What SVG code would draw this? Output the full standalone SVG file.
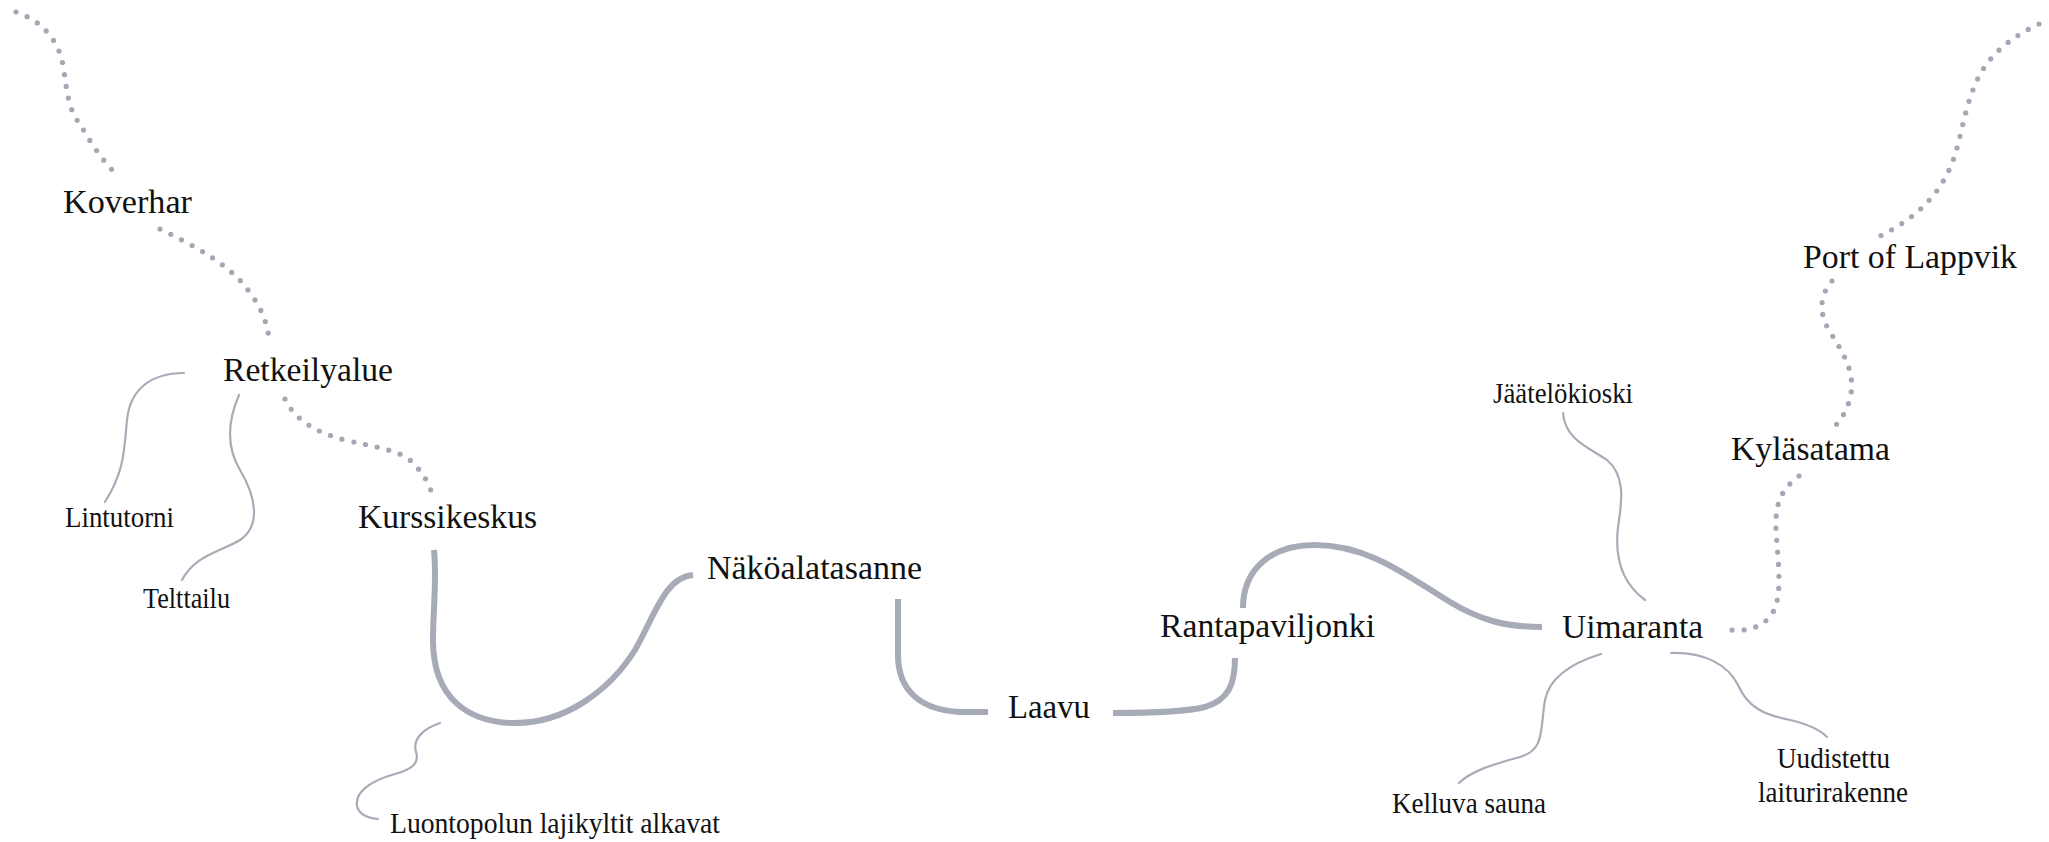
<svg xmlns="http://www.w3.org/2000/svg" width="2049" height="842" viewBox="0 0 2049 842">
<style>
.big{font-family:"Liberation Serif","Times New Roman",serif;font-size:33.5px;fill:#111}
.small{font-family:"Liberation Serif","Times New Roman",serif;font-size:28.5px;fill:#111}
.thick{fill:none;stroke:#a7abb8;stroke-width:6;stroke-linecap:butt}
.thin{fill:none;stroke:#a8acb8;stroke-width:2.2;stroke-linecap:round}
.dot{fill:none;stroke:#a4a7b5;stroke-width:5.2;stroke-linecap:round;stroke-dasharray:0 12}
</style>
<rect width="2049" height="842" fill="#ffffff"/>
<g id="connectors">
<path class="dot" d="M16,12 C40,20 58,38 63,65 C67,90 68,110 80,124 C88,138 100,158 116,174"/>
<path class="dot" d="M160,229 C195,246 230,265 248,290 C262,308 268,325 269,340"/>
<path class="dot" d="M285,399 C295,420 315,432 345,440 C375,447 400,450 412,462 C424,474 430,485 432,495"/>
<path class="dot" d="M2039,24 C2005,40 1985,60 1975,85 C1962,115 1960,150 1948,172 C1935,200 1910,222 1876,238"/>
<path class="dot" d="M1832,281 C1820,295 1818,312 1830,332 C1845,355 1856,375 1850,398 C1847,410 1842,418 1836,425"/>
<path class="dot" d="M1799,476 C1780,490 1775,505 1776,530 C1778,560 1782,590 1775,608 C1768,625 1750,632 1731,630"/>
<path class="thin" d="M184,373 C150,373 130,390 127,420 C124,450 125,470 105,502"/>
<path class="thin" d="M239,395 C226,425 228,450 240,470 C255,495 262,525 240,540 C220,552 195,555 182,580"/>
<path class="thin" d="M440,723 C425,728 412,738 416,752 C420,764 410,770 395,774 C370,781 355,792 357,806 C359,815 368,818 378,819"/>
<path class="thin" d="M1563,413 C1565,440 1590,448 1607,460 C1625,475 1622,500 1619,520 C1614,550 1618,580 1645,600"/>
<path class="thin" d="M1601,654 C1575,662 1550,675 1545,700 C1540,730 1545,750 1520,757 C1490,765 1470,772 1459,783"/>
<path class="thin" d="M1671,653 C1705,652 1728,665 1738,685 C1748,708 1765,715 1790,720 C1808,724 1820,730 1827,737"/>
<path class="thick" d="M434,550 C437,580 433,610 433,640 C433,700 470,722 513,723 C565,724 610,690 635,650 C655,615 665,577 693,575"/>
<path class="thick" d="M898,599 L898,655 C898,690 920,710 960,712 L988,712"/>
<path class="thick" d="M1113,713 C1150,713 1185,712 1205,707 C1228,700 1235,685 1235,658"/>
<path class="thick" d="M1243,608 C1243,570 1270,545 1315,545 C1370,545 1410,578 1450,602 C1480,620 1505,627 1542,627"/>
</g>
<g id="koverhar"><text class="big" x="63" y="213" textLength="129" lengthAdjust="spacingAndGlyphs">Koverhar</text></g>
<g id="retkeilyalue"><text class="big" x="223" y="381" textLength="170" lengthAdjust="spacingAndGlyphs">Retkeilyalue</text></g>
<g id="kurssikeskus"><text class="big" x="358" y="528" textLength="179" lengthAdjust="spacingAndGlyphs">Kurssikeskus</text></g>
<g id="nakoalatasanne"><text class="big" x="707" y="579" textLength="215" lengthAdjust="spacingAndGlyphs">Näköalatasanne</text></g>
<g id="laavu"><text class="big" x="1008" y="718" textLength="82" lengthAdjust="spacingAndGlyphs">Laavu</text></g>
<g id="rantapaviljonki"><text class="big" x="1160" y="637" textLength="215" lengthAdjust="spacingAndGlyphs">Rantapaviljonki</text></g>
<g id="uimaranta"><text class="big" x="1562" y="638" textLength="141" lengthAdjust="spacingAndGlyphs">Uimaranta</text></g>
<g id="kylasatama"><text class="big" x="1731" y="460" textLength="159" lengthAdjust="spacingAndGlyphs">Kyläsatama</text></g>
<g id="port-of-lappvik"><text class="big" x="1803" y="268" textLength="214" lengthAdjust="spacingAndGlyphs">Port of Lappvik</text></g>
<g id="lintutorni"><text class="small" x="65" y="527" textLength="109" lengthAdjust="spacingAndGlyphs">Lintutorni</text></g>
<g id="telttailu"><text class="small" x="143" y="608" textLength="87" lengthAdjust="spacingAndGlyphs">Telttailu</text></g>
<g id="luontopolun"><text class="small" x="390" y="833" textLength="330" lengthAdjust="spacingAndGlyphs">Luontopolun lajikyltit alkavat</text></g>
<g id="jaatelokioski"><text class="small" x="1493" y="403" textLength="140" lengthAdjust="spacingAndGlyphs">Jäätelökioski</text></g>
<g id="kelluva-sauna"><text class="small" x="1392" y="813" textLength="154" lengthAdjust="spacingAndGlyphs">Kelluva sauna</text></g>
<g id="uudistettu"><text class="small" x="1777" y="768" textLength="113" lengthAdjust="spacingAndGlyphs">Uudistettu</text><text class="small" x="1758" y="802" textLength="150" lengthAdjust="spacingAndGlyphs">laiturirakenne</text></g>
</svg>
